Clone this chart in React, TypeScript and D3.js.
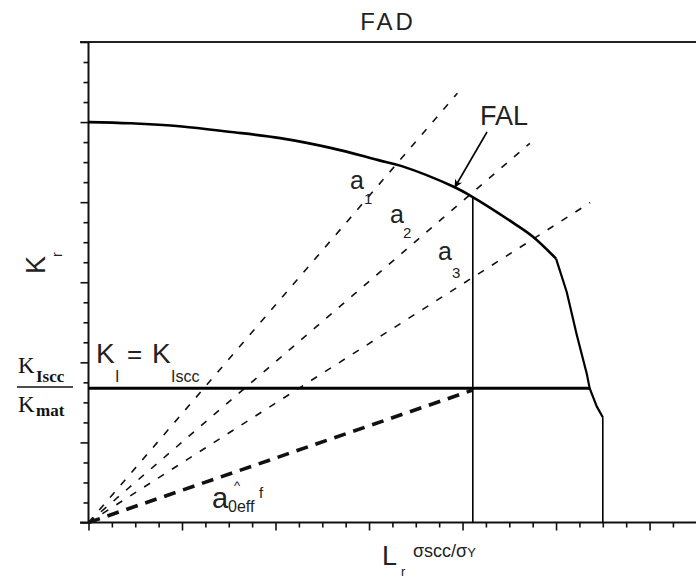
import * as d3 from "d3";
import { useEffect, useRef } from "react";

// failure assessment line (Lr, Kr)
const falLr = [0, 0.09, 0.2, 0.3, 0.41, 0.52, 0.62, 0.67, 0.78, 0.82, 0.91, 0.95, 1.0];
const falKr = [1.0, 0.997, 0.989, 0.976, 0.96, 0.935, 0.905, 0.89, 0.839, 0.814, 0.747, 0.714, 0.659];
// steep part after the kink, down to Lr max
const cutLr = [1.0, 1.023, 1.044, 1.066, 1.072, 1.087, 1.1, 1.1];
const cutKr = [0.659, 0.575, 0.47, 0.37, 0.335, 0.29, 0.263, 0];

// loading lines from the origin (end points)
const rayNames = ["1", "2", "3"];
const rayEndLr = [0.789, 0.944, 1.073];
const rayEndKr = [1.072, 0.947, 0.799];
const effEndLr = 0.82;
const effEndKr = 0.33;

const kIsccRatio = 0.335;
const lrScc = 0.822;
const lrMax = 1.1;

const W = 696;
const H = 578;

const App = () => {
  const svgRef = useRef(null);

  const drawChart = () => {
    d3.select(svgRef.current).selectAll("*").remove();
    const svg = d3.select(svgRef.current).attr("width", W).attr("height", H);

    const x = d3.scaleLinear().domain([0, 1.3]).range([88.5, 696.3]);
    const y = d3.scaleLinear().domain([0, 1.2]).range([522.5, 42]);

    const sans = "'Liberation Sans', Arial, sans-serif";
    const serif = "'Liberation Serif', 'Times New Roman', serif";

    // frame lines
    svg.append("line").attr("x1", 80).attr("x2", W).attr("y1", y(1.2)).attr("y2", y(1.2))
      .attr("stroke", "#222").attr("stroke-width", 2);
    svg.append("line").attr("x1", 80).attr("x2", W).attr("y1", y(0)).attr("y2", y(0))
      .attr("stroke", "#111").attr("stroke-width", 2);
    svg.append("line").attr("x1", x(0)).attr("x2", x(0)).attr("y1", y(1.2)).attr("y2", y(0))
      .attr("stroke", "#111").attr("stroke-width", 2);

    // ticks
    const xMinor = d3.range(0, 27).map((i) => i * 0.05).filter((_, i) => i % 4 !== 0);
    const xMajor = d3.range(0, 7).map((i) => i * 0.2);
    const yMinor = d3.range(0, 25).map((i) => i * 0.05).filter((_, i) => i % 4 !== 0);
    const yMajor = d3.range(0, 7).map((i) => i * 0.2);

    const addAxis = (axis, tr) => {
      const g = svg.append("g").attr("transform", tr).call(axis);
      g.select(".domain").remove();
      g.selectAll("line").attr("stroke", "#111").attr("stroke-width", 1.6);
      g.selectAll("text").remove();
    };
    addAxis(d3.axisBottom(x).tickValues(xMinor).tickSize(5).tickFormat(() => ""), `translate(0,${y(0)})`);
    addAxis(d3.axisBottom(x).tickValues(xMajor).tickSize(8).tickFormat(() => ""), `translate(0,${y(0)})`);
    addAxis(d3.axisLeft(y).tickValues(yMinor).tickSize(5).tickFormat(() => ""), `translate(${x(0)},0)`);
    addAxis(d3.axisLeft(y).tickValues(yMajor).tickSize(8).tickFormat(() => ""), `translate(${x(0)},0)`);

    // loading lines a1..a3
    rayNames.forEach((_, i) => {
      svg.append("line")
        .attr("x1", x(0)).attr("y1", y(0))
        .attr("x2", x(rayEndLr[i])).attr("y2", y(rayEndKr[i]))
        .attr("stroke", "#111").attr("stroke-width", 1.6)
        .attr("stroke-dasharray", "7,9.5");
    });
    // effective initial crack line
    svg.append("line")
      .attr("x1", x(0)).attr("y1", y(0))
      .attr("x2", x(effEndLr)).attr("y2", y(effEndKr))
      .attr("stroke", "#111").attr("stroke-width", 3.6)
      .attr("stroke-dasharray", "12,8");

    // K_I = K_Iscc line
    const cutIdx = cutKr.findIndex((k) => k < kIsccRatio);
    const t = (kIsccRatio - cutKr[cutIdx - 1]) / (cutKr[cutIdx] - cutKr[cutIdx - 1]);
    const lrEnd = cutLr[cutIdx - 1] + t * (cutLr[cutIdx] - cutLr[cutIdx - 1]);
    svg.append("line")
      .attr("x1", x(0)).attr("x2", x(lrEnd))
      .attr("y1", y(kIsccRatio)).attr("y2", y(kIsccRatio))
      .attr("stroke", "#000").attr("stroke-width", 3);

    // vertical at sigma_scc / sigma_Y
    const lrIdx = falLr.findIndex((l) => l > lrScc);
    const t2 = (lrScc - falLr[lrIdx - 1]) / (falLr[lrIdx] - falLr[lrIdx - 1]);
    const krTop = falKr[lrIdx - 1] + t2 * (falKr[lrIdx] - falKr[lrIdx - 1]);
    svg.append("line")
      .attr("x1", x(lrScc)).attr("x2", x(lrScc))
      .attr("y1", y(krTop)).attr("y2", y(0))
      .attr("stroke", "#000").attr("stroke-width", 1.6);

    // FAL
    const arc = d3.line().x((d) => x(d[0])).y((d) => y(d[1])).curve(d3.curveCatmullRom);
    svg.append("path")
      .attr("d", arc(falLr.map((l, i) => [l, falKr[i]])))
      .attr("fill", "none").attr("stroke", "#000").attr("stroke-width", 2.6);
    const seg = d3.line().x((d) => x(d[0])).y((d) => y(d[1]));
    svg.append("path")
      .attr("d", seg(cutLr.slice(0, -1).map((l, i) => [l, cutKr[i]])))
      .attr("fill", "none").attr("stroke", "#000").attr("stroke-width", 2.2)
      .attr("stroke-linejoin", "round");
    // final vertical at Lr max drawn thinner
    svg.append("line")
      .attr("x1", x(lrMax)).attr("x2", x(lrMax)).attr("y1", y(cutKr[cutKr.length - 2])).attr("y2", y(0))
      .attr("stroke", "#000").attr("stroke-width", 1.6);

    // arrow to FAL
    svg.append("defs").append("marker")
      .attr("id", "head").attr("viewBox", "0 0 10 10").attr("refX", 9).attr("refY", 5)
      .attr("markerWidth", 10).attr("markerHeight", 8).attr("markerUnits", "userSpaceOnUse")
      .attr("orient", "auto")
      .append("path").attr("d", "M0,0 L10,5 L0,10 L3,5 Z").attr("fill", "#000");
    svg.append("line")
      .attr("x1", 487).attr("y1", 132).attr("x2", 455).attr("y2", 187)
      .attr("stroke", "#000").attr("stroke-width", 1.6).attr("marker-end", "url(#head)");

    // texts
    const txt = (s, tx, ty, size, extra = {}) => {
      const el = svg.append("text").attr("x", tx).attr("y", ty)
        .attr("font-family", extra.family || sans).attr("font-size", size)
        .attr("fill", extra.fill || "#222").text(s);
      if (extra.anchor) el.attr("text-anchor", extra.anchor);
      if (extra.ls) el.attr("letter-spacing", extra.ls);
      if (extra.weight) el.attr("font-weight", extra.weight);
      return el;
    };

    txt("FAD", 388, 30, 24, { anchor: "middle", ls: 3 });
    txt("FAL", 480, 125, 27);

    // ray labels
    const labA = [[350, 189], [390, 223], [438, 260]];
    const labN = [[364, 204], [403, 238], [452, 278]];
    rayNames.forEach((n, i) => {
      txt("a", labA[i][0], labA[i][1], 25);
      txt(n, labN[i][0], labN[i][1], 15);
    });

    // K_I = K_Iscc
    txt("K", 96, 363, 28);
    txt("I", 115, 382, 16);
    txt("=", 127, 363, 26);
    txt("K", 152, 363, 28);
    txt("Iscc", 171, 382, 16);

    // a0eff f
    txt("a", 212, 508, 29);
    txt("0eff", 228, 512, 16);
    txt("^", 234, 490, 13);
    txt("f", 259, 498, 15);

    // left fraction K_Iscc / K_mat
    txt("K", 18, 373, 23, { family: serif, fill: "#111" });
    txt("Iscc", 36, 382, 17, { family: serif, weight: "bold", fill: "#111" });
    svg.append("line").attr("x1", 17).attr("x2", 73).attr("y1", 387).attr("y2", 387)
      .attr("stroke", "#111").attr("stroke-width", 1.6);
    txt("K", 18, 412, 23, { family: serif, fill: "#111" });
    txt("mat", 36, 416, 17, { family: serif, weight: "bold", fill: "#111" });

    // axis titles
    const kr = svg.append("g").attr("transform", "translate(45,274) rotate(-90)");
    kr.append("text").attr("x", 0).attr("y", 0).attr("font-family", sans)
      .attr("font-size", 27).attr("fill", "#222").text("K");
    kr.append("text").attr("x", 17).attr("y", 17).attr("font-family", sans)
      .attr("font-size", 14).attr("fill", "#222").text("r");

    txt("L", 382, 565, 27);
    txt("r", 401, 576, 13);
    const sig = txt("σscc/σ", 413, 557, 18);
    sig.append("tspan").attr("font-size", 13).text("Y");
  };

  useEffect(() => {
    drawChart();
  }, []);

  return (
    <svg
      ref={svgRef}
      style={{ position: "absolute", left: 0, top: 0, background: "#fff" }}
    ></svg>
  );
};

export default App;
